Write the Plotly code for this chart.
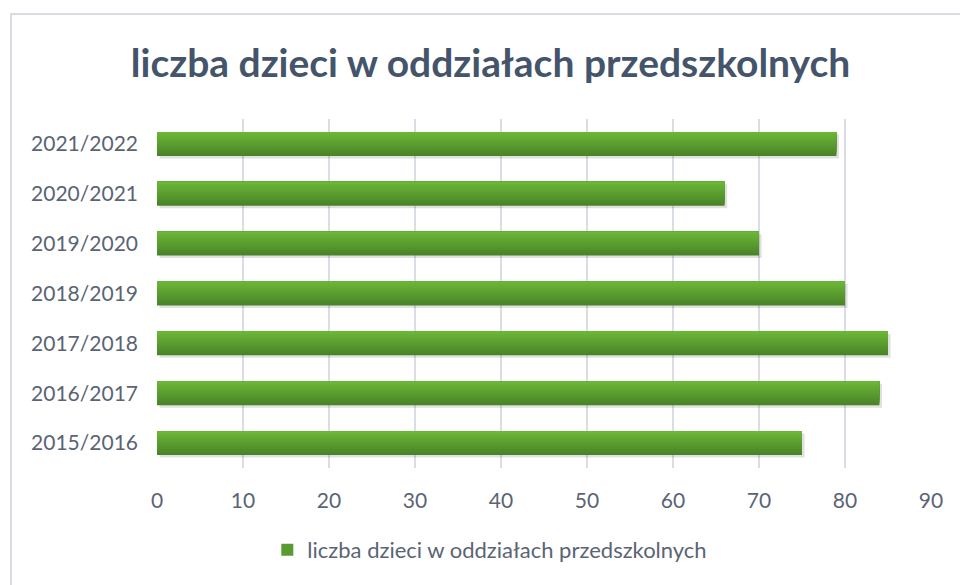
import plotly.graph_objects as go

years = ["2015/2016", "2016/2017", "2017/2018", "2018/2019", "2019/2020", "2020/2021", "2021/2022"]
values = [75, 84, 85, 80, 70, 66, 79]
series_name = "liczba dzieci w oddziałach przedszkolnych"
title_text = "liczba dzieci w oddziałach przedszkolnych"
x_ticks = [0, 10, 20, 30, 40, 50, 60, 70, 80, 90]

# gradient bands, bottom -> top (dark -> light green)
band_colors = ["#4a8428", "#4d8929", "#508d2a", "#53922c", "#56962d", "#599b2f",
               "#5c9f30", "#5fa431", "#62a833", "#65ad34", "#68b135", "#6bb637"]
bar_w = 0.48
n = len(band_colors)
bw = bar_w / n

fig = go.Figure()

# soft shadow
fig.add_trace(go.Bar(
    y=years, x=values, orientation="h", base=0.3,
    width=bar_w, offset=-bar_w / 2 - 0.05,
    marker=dict(color="rgba(0,0,0,0.12)", line=dict(width=0)),
    showlegend=False, hoverinfo="skip"))

# overlapping bands: each starts higher and runs to the top edge -> no seams
for i, c in enumerate(band_colors):
    fig.add_trace(go.Bar(
        y=years, x=values, orientation="h",
        width=bar_w - i * bw, offset=-bar_w / 2 + i * bw,
        marker=dict(color=c, line=dict(width=0)),
        name=series_name, showlegend=(i == 5),
        hoverinfo="x+y"))

font_family = "Lato, 'Open Sans', sans-serif"
fig.update_layout(
    width=960, height=585,
    barmode="overlay",
    paper_bgcolor="white", plot_bgcolor="white",
    margin=dict(l=157, r=29, t=119, b=117),
    title=dict(text="<b>" + title_text + "</b>", x=0.511, xref="container",
               y=0.892, yref="container", xanchor="center", yanchor="middle",
               font=dict(family="Lato, sans-serif", size=39, color="#44546a")),
    xaxis=dict(range=[0, 90], tickvals=x_ticks, showgrid=True,
               gridcolor="#d9dee6", gridwidth=1.5, zeroline=False,
               tickfont=dict(family=font_family, size=21, color="#5a6474"),
               ticks="", ticklabelstandoff=18, showline=False, fixedrange=True),
    yaxis=dict(type="category", categoryorder="array", categoryarray=years,
               tickfont=dict(family=font_family, size=21, color="#5a6474"),
               ticks="", ticklabelstandoff=18, showgrid=False, showline=False, fixedrange=True),
    legend=dict(orientation="h", x=0.43, xanchor="center", y=-0.235, yanchor="middle",
                font=dict(family=font_family, size=22, color="#5a6474"),
                itemwidth=30, bgcolor="rgba(0,0,0,0)"),
    shapes=[dict(type="rect", xref="paper", yref="paper",
                 x0=-0.1886, x1=1.2, y0=-0.5, y1=1.3009,
                 line=dict(color="#d9dde3", width=2), fillcolor="rgba(0,0,0,0)", layer="below")],
)

div = fig.to_html(include_plotlyjs=True, full_html=False, config={"displayModeBar": False})
html = ("<!DOCTYPE html><html><head><meta charset='utf-8'>"
        "<style>html,body{margin:0;padding:0;overflow:hidden;background:white;}</style>"
        "</head><body>" + div + "</body></html>")
with open("out.html", "w", encoding="utf-8") as f:
    f.write(html)
